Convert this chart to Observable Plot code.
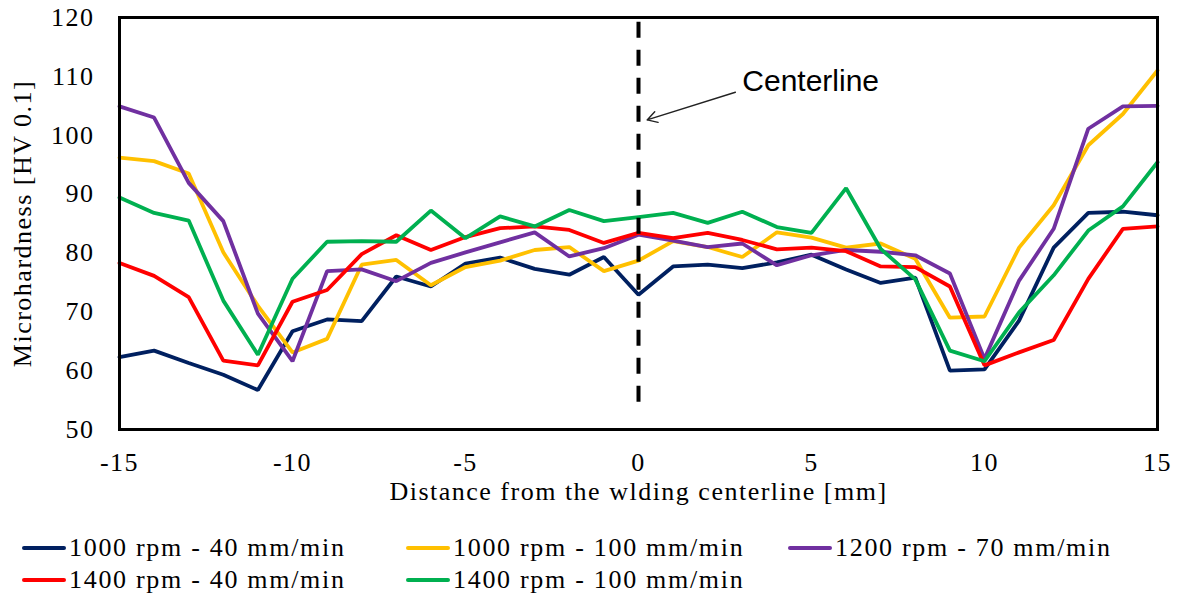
<!DOCTYPE html>
<html>
<head>
<meta charset="utf-8">
<script src="https://cdn.jsdelivr.net/npm/d3@7"></script>
<script src="https://cdn.jsdelivr.net/npm/@observablehq/plot@0.6"></script>
<style>
  html, body { margin: 0; padding: 0; background: #fff; }
  #chart svg { display: block; }
  .legend { font-family: "Liberation Serif", "Times New Roman", serif; font-size: 26px; line-height: 26px; letter-spacing: 1.7px; color: #000;
    display: grid; grid-template-columns: 384px 382px 380px; padding-left: 22px; row-gap: 6px; margin-top: 20px; }
  .item { display: flex; align-items: center; white-space: nowrap; }
  .sw { width: 44px; height: 4px; border-radius: 2px; margin-right: 3px; }
</style>
</head>
<body>
<div id="chart"></div>
<div class="legend" id="legend"></div>
<script>
const distance = [-15,-14,-13,-12,-11,-10,-9,-8,-7,-6,-5,-4,-3,-2,-1,0,1,2,3,4,5,6,7,8,9,10,11,12,13,14,15];
const seriesNames = ["1000 rpm - 40 mm/min","1000 rpm - 100 mm/min","1200 rpm - 70 mm/min","1400 rpm - 40 mm/min","1400 rpm - 100 mm/min"];
const seriesColors = ["#002060","#FFC000","#7030A0","#FF0000","#00B050"];
const s1000_40  = [62.3,63.4,61.3,59.3,56.7,66.7,68.7,68.4,76.0,74.3,78.2,79.2,77.3,76.3,79.3,72.9,77.7,78.0,77.4,78.4,79.7,77.2,74.9,75.8,60.0,60.2,68.5,80.9,86.8,87.0,86.4];
const s1000_100 = [96.2,95.6,93.5,80.1,71.0,63.1,65.4,78.0,78.8,74.5,77.6,78.7,80.5,81.0,76.9,78.7,82.0,81.0,79.3,83.5,82.6,80.9,81.6,79.0,69.0,69.2,80.9,88.1,98.3,103.6,111.0];
const s1200_70  = [104.9,103.0,91.9,85.4,69.7,61.6,76.9,77.2,75.2,78.3,80.1,81.8,83.5,79.4,80.8,83.1,82.1,81.0,81.6,77.9,79.6,80.5,80.2,79.6,76.5,62.0,75.3,84.1,101.1,104.9,105.0];
const s1400_40  = [78.3,76.1,72.5,61.7,60.9,71.7,73.7,79.8,83.0,80.5,82.7,84.2,84.5,83.9,81.7,83.4,82.5,83.4,82.2,80.6,80.9,80.3,77.7,77.6,74.3,60.9,63.1,65.2,75.6,84.1,84.5];
const s1400_100 = [89.4,86.8,85.5,71.9,62.7,75.6,81.9,82.0,81.9,87.2,82.5,86.2,84.5,87.3,85.4,86.1,86.8,85.1,87.0,84.4,83.4,91.0,80.7,75.5,63.4,61.6,69.9,76.2,83.8,87.9,95.4];
const xTicks = [-15,-10,-5,0,5,10,15];
const yTicks = [50,60,70,80,90,100,110,120];
const centerline = [{x: 0, y1: 119.2, y2: 53}];
const arrowData = [{x1: 2.8, y1: 107.3, x2: 0.25, y2: 102.6}];
const labelData = [{x: 3.0, y: 109.2, text: "Centerline"}];

const allSeries = [s1000_40, s1000_100, s1200_70, s1400_40, s1400_100];
const table = [];
allSeries.forEach((vals, i) => vals.forEach((v, j) => table.push({s: seriesNames[i], x: distance[j], v})));

const serif = "Liberation Serif, Times New Roman, serif";
const chart = Plot.plot({
  width: 1179, height: 515,
  marginLeft: 119, marginRight: 22, marginTop: 17, marginBottom: 86,
  style: {fontFamily: serif, fontSize: "26px", color: "#000", background: "#fff", letterSpacing: "1.5px"},
  x: {domain: [-15, 15]},
  y: {domain: [50, 120]},
  color: {domain: seriesNames, range: seriesColors},
  marks: [
    Plot.axisX({ticks: xTicks, tickSize: 0, tickPadding: 23, label: null, fontSize: 26, tickFormat: d => String(d)}),
    Plot.axisY({ticks: yTicks, tickSize: 0, tickPadding: 25, label: null, fontSize: 26}),
    Plot.text(["Distance from the wlding centerline [mm]"], {frameAnchor: "bottom", dy: 70, fontSize: 26, fontFamily: serif}),
    Plot.text(["Microhardness [HV 0.1]"], {frameAnchor: "left", dx: -97, rotate: -90, textAnchor: "middle", fontSize: 26, fontFamily: serif}),
    Plot.line(table, {x: "x", y: "v", z: "s", stroke: "s", strokeWidth: 3.8, strokeLinejoin: "miter"}),
    Plot.ruleX(centerline, {x: "x", y1: "y1", y2: "y2", stroke: "#000", strokeWidth: 4, strokeDasharray: "16,12"}),
    Plot.arrow(arrowData, {x1: "x1", y1: "y1", x2: "x2", y2: "y2", stroke: "#222", strokeWidth: 1.4, headLength: 12}),
    Plot.text(labelData, {x: "x", y: "y", text: "text", textAnchor: "start", fontSize: 30, fontFamily: "Liberation Sans, Arial, sans-serif"}),
    Plot.frame({stroke: "#000", strokeWidth: 3})
  ]
});
chart.querySelectorAll("text").forEach(t => { if (t.textContent === "Centerline") t.style.letterSpacing = "0px"; });
document.getElementById("chart").appendChild(chart);

const legend = document.getElementById("legend");
seriesNames.forEach((n, i) => {
  const it = document.createElement("div");
  it.className = "item";
  it.innerHTML = `<span class="sw" style="background:${seriesColors[i]}"></span><span>${n}</span>`;
  legend.appendChild(it);
});
</script>
</body>
</html>
